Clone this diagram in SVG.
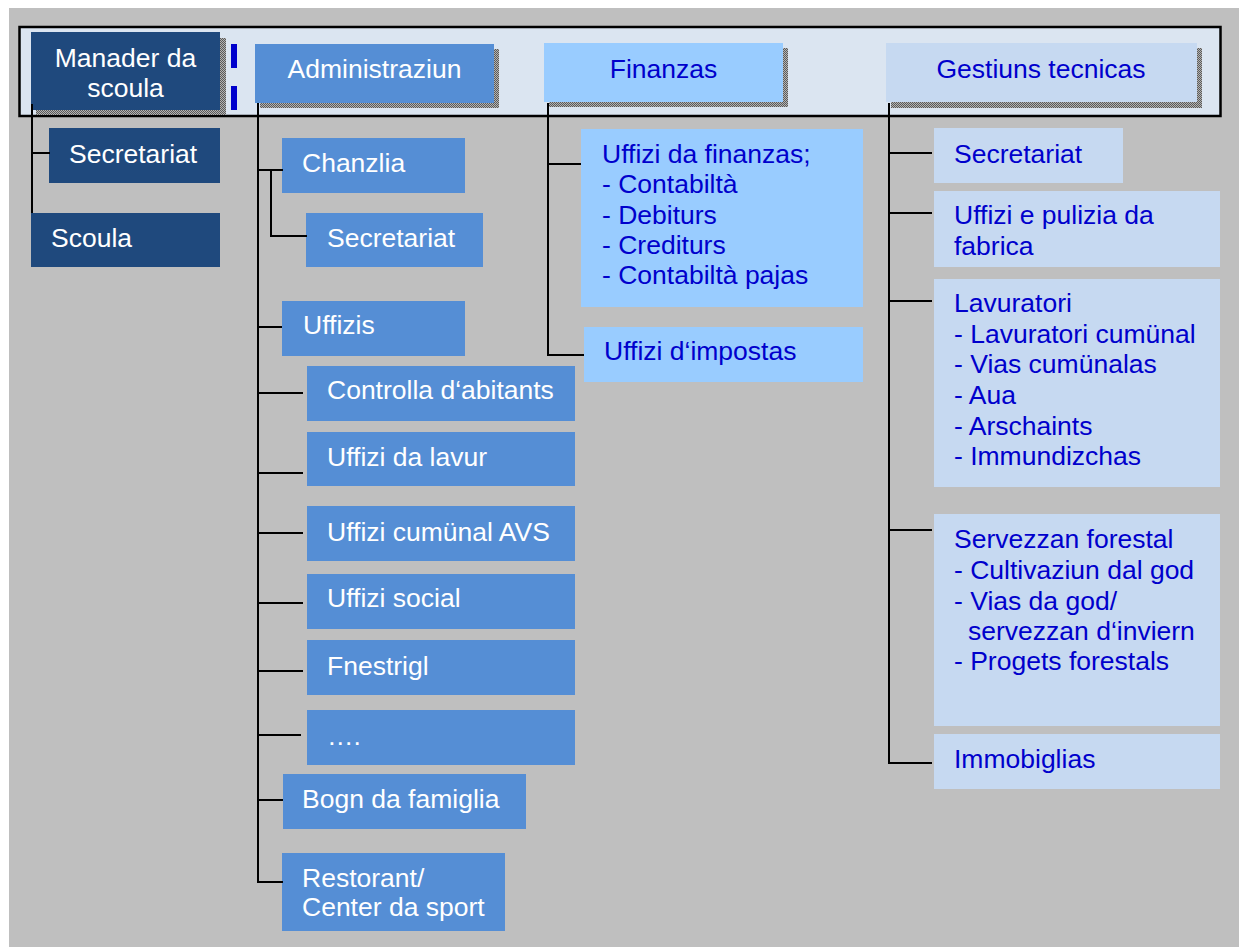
<svg xmlns="http://www.w3.org/2000/svg" width="1239" height="947" viewBox="0 0 1239 947">
<defs>
<pattern id="hatch" width="2" height="2" patternUnits="userSpaceOnUse">
<rect width="2" height="2" fill="#b3b3b3"/>
<rect width="1" height="1" fill="#5a5a5a"/>
<rect x="1" y="1" width="1" height="1" fill="#5a5a5a"/>
</pattern>
<style>
text{font-family:"Liberation Sans",Arial,sans-serif;font-size:26.5px}
.dk{fill:#1F497D}
.md{fill:#558ED5}
.lt{fill:#99CCFF}
.pl{fill:#C6D9F1}
.sh{fill:url(#hatch)}
.w{fill:#FFFFFF}
.b{fill:#0000CC}
.c{text-anchor:middle}
#connectors path{fill:none;stroke:#000;stroke-width:2}
</style>
</defs>
<rect x="9" y="8" width="1230" height="939" fill="#BFBFBF"/>
<rect x="19.5" y="27" width="1201" height="89" fill="#DBE5F1" stroke="#000" stroke-width="2.5"/>
<rect x="231" y="44" width="6" height="24" fill="#0000CC"/>
<rect x="231" y="86" width="6" height="24" fill="#0000CC"/>

<g id="n-manader">
<rect class="sh" x="36" y="38" width="190" height="77"/>
<rect class="dk" x="31" y="32" width="189" height="78"/>
<text class="w c" x="125.5" y="67">Manader da</text>
<text class="w c" x="125.5" y="97">scoula</text>
</g>
<g id="n-administraziun">
<rect class="sh" x="260" y="49" width="239" height="59"/>
<rect class="md" x="255" y="44" width="239" height="59"/>
<text class="w c" x="374.5" y="78">Administraziun</text>
</g>
<g id="n-finanzas">
<rect class="sh" x="549" y="48" width="239" height="59"/>
<rect class="lt" x="544" y="43" width="239" height="59"/>
<text class="b c" x="663.5" y="78">Finanzas</text>
</g>
<g id="n-gestiuns">
<rect class="sh" x="891" y="48" width="311" height="60"/>
<rect class="pl" x="886" y="43" width="311" height="59"/>
<text class="b c" x="1041" y="78">Gestiuns tecnicas</text>
</g>

<g id="n-secretariat-m">
<rect class="dk" x="49" y="128" width="171" height="55"/>
<text class="w" x="69" y="163">Secretariat</text>
</g>
<g id="n-scoula">
<rect class="dk" x="31" y="213" width="189" height="54"/>
<text class="w" x="51" y="247">Scoula</text>
</g>

<g id="n-chanzlia">
<rect class="md" x="282" y="138" width="183" height="55"/>
<text class="w" x="302" y="172">Chanzlia</text>
</g>
<g id="n-secretariat-a">
<rect class="md" x="306" y="213" width="177" height="54"/>
<text class="w" x="327" y="247">Secretariat</text>
</g>
<g id="n-uffizis">
<rect class="md" x="282" y="301" width="183" height="55"/>
<text class="w" x="303" y="334">Uffizis</text>
</g>
<g id="n-controlla">
<rect class="md" x="307" y="366" width="268" height="55"/>
<text class="w" x="327" y="399">Controlla d‘abitants</text>
</g>
<g id="n-lavur">
<rect class="md" x="307" y="432" width="268" height="54"/>
<text class="w" x="327" y="466">Uffizi da lavur</text>
</g>
<g id="n-avs">
<rect class="md" x="307" y="506" width="268" height="55"/>
<text class="w" x="327" y="541">Uffizi cumünal AVS</text>
</g>
<g id="n-social">
<rect class="md" x="307" y="574" width="268" height="55"/>
<text class="w" x="327" y="607">Uffizi social</text>
</g>
<g id="n-fnestrigl">
<rect class="md" x="307" y="640" width="268" height="55"/>
<text class="w" x="327" y="675">Fnestrigl</text>
</g>
<g id="n-dots">
<rect class="md" x="307" y="710" width="268" height="55"/>
<text class="w" x="327" y="745">….</text>
</g>
<g id="n-bogn">
<rect class="md" x="283" y="774" width="243" height="55"/>
<text class="w" x="302" y="808">Bogn da famiglia</text>
</g>
<g id="n-restorant">
<rect class="md" x="282" y="853" width="223" height="78"/>
<text class="w" x="302" y="887">Restorant/</text>
<text class="w" x="302" y="916">Center da sport</text>
</g>

<g id="n-uffizi-finanzas">
<rect class="lt" x="581" y="129" width="282" height="178"/>
<text class="b" x="602" y="163">Uffizi da finanzas;</text>
<text class="b" x="602" y="193">- Contabiltà</text>
<text class="b" x="602" y="224">- Debiturs</text>
<text class="b" x="602" y="254">- Crediturs</text>
<text class="b" x="602" y="284">- Contabiltà pajas</text>
</g>
<g id="n-impostas">
<rect class="lt" x="584" y="327" width="279" height="55"/>
<text class="b" x="604" y="360">Uffizi d‘impostas</text>
</g>

<g id="n-secretariat-g">
<rect class="pl" x="934" y="128" width="189" height="55"/>
<text class="b" x="954" y="163">Secretariat</text>
</g>
<g id="n-pulizia">
<rect class="pl" x="934" y="191" width="286" height="76"/>
<text class="b" x="954" y="224">Uffizi e pulizia da</text>
<text class="b" x="954" y="255">fabrica</text>
</g>
<g id="n-lavuratori">
<rect class="pl" x="934" y="279" width="286" height="208"/>
<text class="b" x="954" y="312">Lavuratori</text>
<text class="b" x="954" y="343">- Lavuratori cumünal</text>
<text class="b" x="954" y="373">- Vias cumünalas</text>
<text class="b" x="954" y="404">- Aua</text>
<text class="b" x="954" y="435">- Arschaints</text>
<text class="b" x="954" y="465">- Immundizchas</text>
</g>
<g id="n-forestal">
<rect class="pl" x="934" y="514" width="286" height="212"/>
<text class="b" x="954" y="548">Servezzan forestal</text>
<text class="b" x="954" y="579">- Cultivaziun dal god</text>
<text class="b" x="954" y="610">- Vias da god/</text>
<text class="b" x="968" y="640">servezzan d‘inviern</text>
<text class="b" x="954" y="670">- Progets forestals</text>
</g>
<g id="n-immobiglias">
<rect class="pl" x="934" y="734" width="286" height="55"/>
<text class="b" x="954" y="768">Immobiglias</text>
</g>

<g id="connectors">
<path d="M32 104 V213 M32 153 H50"/>
<path d="M258 103 V882 H283 M258 170 H283 M271 170 V236 H307 M258 327 H282 M258 393 H303 M258 473 H303 M258 533 H303 M258 603 H303 M258 671 H303 M258 735 H301 M258 800 H283"/>
<path d="M548 103 V355 H584 M548 164 H581"/>
<path d="M889 103 V763 H932 M889 153 H932 M889 213 H932 M889 301 H932 M889 530 H932"/>
</g>
</svg>
